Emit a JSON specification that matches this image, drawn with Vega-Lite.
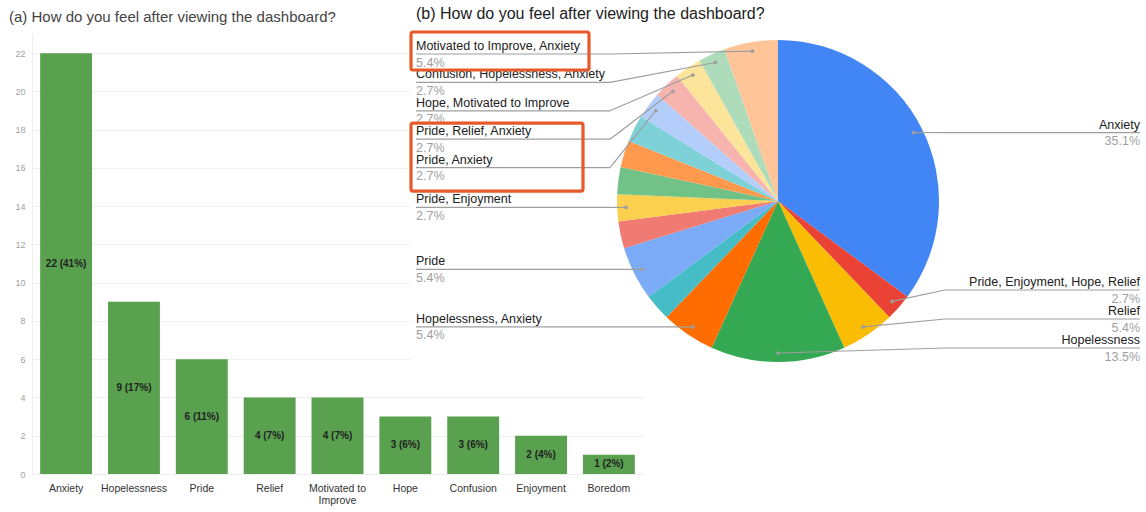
{
  "$schema": "https://vega.github.io/schema/vega-lite/v6.json",
  "background": "white",
  "padding": {"left": 8, "top": 6, "right": 0, "bottom": 0},
  "bounds": "flush",
  "spacing": 0,
  "config": {
    "view": {"stroke": null},
    "font": "Liberation Sans"
  },
  "datasets": {
    "bars": [
      {"emotion": "Anxiety", "count": 22},
      {"emotion": "Hopelessness", "count": 9},
      {"emotion": "Pride", "count": 6},
      {"emotion": "Relief", "count": 4},
      {"emotion": "Motivated to Improve", "count": 4},
      {"emotion": "Hope", "count": 3},
      {"emotion": "Confusion", "count": 3},
      {"emotion": "Enjoyment", "count": 2},
      {"emotion": "Boredom", "count": 1}
    ],
    "pie": [
      {"idx": 1, "response": "Anxiety", "count": 13},
      {"idx": 2, "response": "Pride, Enjoyment, Hope, Relief", "count": 1},
      {"idx": 3, "response": "Relief", "count": 2},
      {"idx": 4, "response": "Hopelessness", "count": 5},
      {"idx": 5, "response": "Hopelessness, Anxiety", "count": 2},
      {"idx": 6, "response": "Confusion", "count": 1},
      {"idx": 7, "response": "Pride", "count": 2},
      {"idx": 8, "response": "Boredom", "count": 1},
      {"idx": 9, "response": "Pride, Enjoyment", "count": 1},
      {"idx": 10, "response": "Hope, Anxiety", "count": 1},
      {"idx": 11, "response": "Confusion, Hopelessness", "count": 1},
      {"idx": 12, "response": "Motivated to Improve, Confusion, Anxiety", "count": 1},
      {"idx": 13, "response": "Pride, Anxiety", "count": 1},
      {"idx": 14, "response": "Pride, Relief, Anxiety", "count": 1},
      {"idx": 15, "response": "Hope, Motivated to Improve", "count": 1},
      {"idx": 16, "response": "Confusion, Hopelessness, Anxiety", "count": 1},
      {"idx": 17, "response": "Motivated to Improve, Anxiety", "count": 2}
    ]
  },
  "hconcat": [
    {
      "width": 611,
      "height": 440,
      "title": {"text": "(a) How do you feel after viewing the dashboard?", "anchor": "start", "dx": -6, "offset": 9, "fontSize": 15, "fontWeight": "normal", "color": "#444444", "font": "Liberation Sans"},
      "data": {"name": "bars"},
      "transform": [
        {"joinaggregate": [{"op": "sum", "field": "count", "as": "total"}]},
        {"calculate": "datum.count + ' (' + format(datum.count / datum.total, '.0%') + ')'", "as": "lbl"},
        {"calculate": "datum.count / 2", "as": "half"}
      ],
      "encoding": {
        "x": {
          "field": "emotion", "type": "nominal", "sort": null,
          "scale": {"paddingInner": 0.235, "paddingOuter": 0.12},
          "axis": {"title": null, "labelAngle": 0, "ticks": false, "domain": false, "labelPadding": 9, "labelFontSize": 10.5, "labelColor": "#333333", "labelFont": "Liberation Sans",
                   "labelExpr": "datum.label == 'Motivated to Improve' ? ['Motivated to', 'Improve'] : datum.label"}
        }
      },
      "layer": [
        {
          "mark": {"type": "bar", "color": "#59a14f"},
          "encoding": {
            "y": {"field": "count", "type": "quantitative", "scale": {"domain": [0, 23], "nice": false},
                  "axis": {"title": null, "values": [0, 2, 4, 6, 8, 10, 12, 14, 16, 18, 20, 22], "ticks": false, "domain": true, "domainColor": "#eeeeee", "gridColor": "#efefef", "labelColor": "#a0a0a0", "labelFontSize": 9, "labelPadding": 7}}
          }
        },
        {
          "mark": {"type": "text", "fontSize": 10, "fontWeight": "bold", "color": "#222222", "baseline": "middle"},
          "encoding": {
            "y": {"field": "half", "type": "quantitative",
                  "axis": {"title": null, "values": [0, 2, 4, 6, 8, 10, 12, 14, 16, 18, 20, 22], "ticks": false, "domain": true, "domainColor": "#eeeeee", "gridColor": "#efefef", "labelColor": "#a0a0a0", "labelFontSize": 9, "labelPadding": 7}},
            "text": {"field": "lbl"}
          }
        }
      ]
    },
    {
      "width": 503,
      "height": 334,
      "title": {"text": "(b) How do you feel after viewing the dashboard?", "anchor": "start", "frame": "group", "dx": -227, "offset": 8, "fontSize": 16, "fontWeight": "normal", "color": "#212121", "font": "Liberation Sans"},
      "data": {"name": "pie"},
      "transform": [
        {"joinaggregate": [{"op": "sum", "field": "count", "as": "total"}]},
        {"window": [{"op": "sum", "field": "count", "as": "cum"}], "sort": [{"field": "idx"}], "frame": [null, 0]},
        {"calculate": "(datum.cum - datum.count) / datum.total", "as": "a0"},
        {"calculate": "datum.cum / datum.total", "as": "a1"},
        {"calculate": "datum.count / datum.total", "as": "pct"},
        {"calculate": "(datum.a0 + datum.a1) * PI", "as": "mid"},
        {"calculate": "152 * sin(datum.mid)", "as": "dx"},
        {"calculate": "-152 * cos(datum.mid)", "as": "dy"},
        {"calculate": "datum.mid <= PI + 0.001 ? 'right' : 'left'", "as": "side"}
      ],
      "layer": [
        {
          "data": {"values": [{"bg": 1}]},
          "mark": {"type": "rect", "fill": "white", "stroke": null},
          "encoding": {
            "x": {"datum": -368, "type": "quantitative", "scale": {"domain": [-368, 368], "range": [-233, 503], "nice": false, "zero": false}, "axis": null},
            "x2": {"datum": 368},
            "y": {"datum": -167, "type": "quantitative", "scale": {"domain": [-167, 167], "range": [0, 334], "nice": false, "zero": false}, "axis": null},
            "y2": {"datum": 167}
          }
        },
        {
          "mark": {"type": "arc", "outerRadius": 161},
          "encoding": {
            "x": {"datum": 0, "type": "quantitative"},
            "y": {"datum": 0, "type": "quantitative"},
            "theta": {"field": "a0", "type": "quantitative", "stack": null, "scale": {"domain": [0, 1], "range": [0, 6.283185307179586]}},
            "theta2": {"field": "a1"},
            "color": {
              "field": "response", "type": "nominal", "legend": null,
              "scale": {
                "domain": ["Anxiety", "Pride, Enjoyment, Hope, Relief", "Relief", "Hopelessness", "Hopelessness, Anxiety", "Confusion", "Pride", "Boredom", "Pride, Enjoyment", "Hope, Anxiety", "Confusion, Hopelessness", "Motivated to Improve, Confusion, Anxiety", "Pride, Anxiety", "Pride, Relief, Anxiety", "Hope, Motivated to Improve", "Confusion, Hopelessness, Anxiety", "Motivated to Improve, Anxiety"],
                "range": ["#4285f4", "#ea4335", "#fbbc04", "#34a853", "#ff6d01", "#46bdc6", "#7baaf7", "#f07b72", "#fcd04f", "#71c287", "#ff994d", "#7ed1d7", "#b3cefb", "#f7b4ae", "#fde49b", "#aedcba", "#ffc599"]
              }
            }
          }
        },
        {
          "transform": [
            {"filter": {"field": "response", "oneOf": ["Anxiety", "Pride, Enjoyment, Hope, Relief", "Relief", "Hopelessness", "Hopelessness, Anxiety", "Pride", "Pride, Enjoyment", "Pride, Anxiety", "Pride, Relief, Anxiety", "Hope, Motivated to Improve", "Confusion, Hopelessness, Anxiety", "Motivated to Improve, Anxiety"]}},
            {"window": [{"op": "row_number", "as": "rk"}], "groupby": ["side"], "sort": [{"field": "dy", "order": "ascending"}]},
            {"window": [{"op": "row_number", "as": "rkb"}], "groupby": ["side"], "sort": [{"field": "dy", "order": "descending"}]},
            {"calculate": "datum.side == 'left' ? max(datum.dy, -147 + (datum.rk - 1) * 28.4) : min(datum.dy, 147 - (datum.rkb - 1) * 29)", "as": "ly"},
            {"calculate": "datum.side == 'left' ? -168 : 167", "as": "ex"},
            {"calculate": "datum.side == 'left' ? -362 : 362", "as": "lx"}
          ],
          "layer": [
            {
              "mark": {"type": "rule", "color": "#9e9e9e", "strokeWidth": 1.2},
              "encoding": {
                "x": {"field": "dx", "type": "quantitative"},
                "y": {"field": "dy", "type": "quantitative"},
                "x2": {"field": "ex"},
                "y2": {"field": "ly"}
              }
            },
            {
              "mark": {"type": "rule", "color": "#9e9e9e", "strokeWidth": 1.2},
              "encoding": {
                "x": {"field": "ex", "type": "quantitative"},
                "y": {"field": "ly", "type": "quantitative"},
                "x2": {"field": "lx"}
              }
            },
            {
              "mark": {"type": "circle", "size": 14, "color": "#9e9e9e", "opacity": 1},
              "encoding": {
                "x": {"field": "dx", "type": "quantitative"},
                "y": {"field": "dy", "type": "quantitative"}
              }
            },
            {
              "transform": [{"filter": "datum.side == 'left'"}],
              "layer": [
                {
                  "mark": {"type": "text", "align": "left", "baseline": "alphabetic", "dy": -4, "fontSize": 12.5, "color": "#212121", "font": "Liberation Sans"},
                  "encoding": {"x": {"field": "lx", "type": "quantitative"}, "y": {"field": "ly", "type": "quantitative"}, "text": {"field": "response"}}
                },
                {
                  "mark": {"type": "text", "align": "left", "baseline": "alphabetic", "dy": 12.5, "fontSize": 12.5, "color": "#9e9e9e", "font": "Liberation Sans"},
                  "encoding": {"x": {"field": "lx", "type": "quantitative"}, "y": {"field": "ly", "type": "quantitative"}, "text": {"field": "pct", "format": ".1%"}}
                }
              ]
            },
            {
              "transform": [{"filter": "datum.side == 'right'"}],
              "layer": [
                {
                  "mark": {"type": "text", "align": "right", "baseline": "alphabetic", "dy": -4, "fontSize": 12.5, "color": "#212121", "font": "Liberation Sans"},
                  "encoding": {"x": {"field": "lx", "type": "quantitative"}, "y": {"field": "ly", "type": "quantitative"}, "text": {"field": "response"}}
                },
                {
                  "mark": {"type": "text", "align": "right", "baseline": "alphabetic", "dy": 12.5, "fontSize": 12.5, "color": "#9e9e9e", "font": "Liberation Sans"},
                  "encoding": {"x": {"field": "lx", "type": "quantitative"}, "y": {"field": "ly", "type": "quantitative"}, "text": {"field": "pct", "format": ".1%"}}
                }
              ]
            },
            {
              "transform": [
                {"filter": {"field": "response", "oneOf": ["Motivated to Improve, Anxiety", "Pride, Relief, Anxiety", "Pride, Anxiety"]}},
                {"calculate": "datum.response == 'Motivated to Improve, Anxiety' ? 1 : 2", "as": "grp"},
                {"aggregate": [{"op": "min", "field": "ly", "as": "lymin"}, {"op": "max", "field": "ly", "as": "lymax"}], "groupby": ["grp"]},
                {"calculate": "datum.grp == 1 ? datum.lymin - 22 : datum.lymin - 16", "as": "by0"},
                {"calculate": "datum.grp == 1 ? datum.lymax + 16 : datum.lymax + 23.5", "as": "by1"},
                {"calculate": "-367", "as": "bx0"},
                {"calculate": "datum.grp == 1 ? -189 : -195", "as": "bx1"}
              ],
              "mark": {"type": "rect", "fill": null, "fillOpacity": 0, "stroke": "#e8592a", "strokeWidth": 3.2, "cornerRadius": 2},
              "encoding": {
                "x": {"field": "bx0", "type": "quantitative"},
                "x2": {"field": "bx1"},
                "y": {"field": "by0", "type": "quantitative"},
                "y2": {"field": "by1"}
              }
            }
          ]
        }
      ]
    }
  ]
}
